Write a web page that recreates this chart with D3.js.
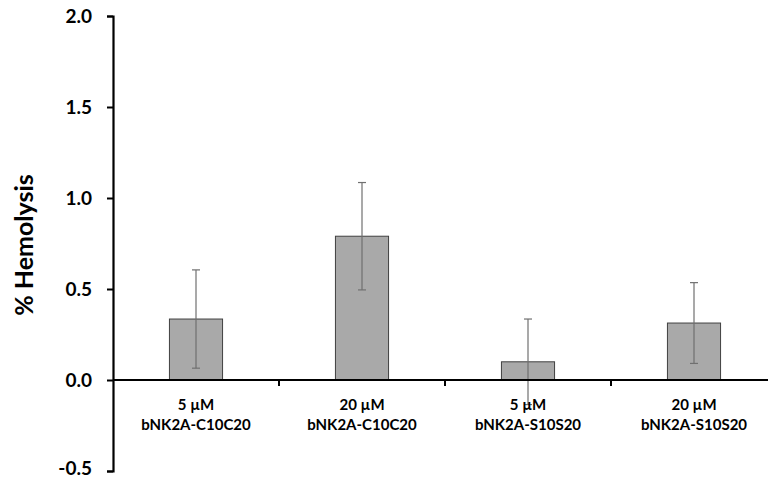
<!DOCTYPE html>
<html>
<head>
<meta charset="utf-8">
<script src="https://cdn.jsdelivr.net/npm/d3@7"></script>
<style>
  body { margin: 0; background: #fff; }
  text { font-family: Lato, "Open Sans", sans-serif; font-weight: bold; fill: #000; }
</style>
</head>
<body>
<div id="chart"></div>
<script>
// Data
const doses = ["5 µM", "20 µM", "5 µM", "20 µM"];
const peptides = ["bNK2A-C10C20", "bNK2A-C10C20", "bNK2A-S10S20", "bNK2A-S10S20"];
const hemolysis = [0.335, 0.79, 0.10, 0.313];
const errors = [0.27, 0.295, 0.235, 0.222];
const yTicks = [-0.5, 0.0, 0.5, 1.0, 1.5, 2.0];

const W = 768, H = 478;
const svg = d3.select("#chart").append("svg")
    .attr("width", W)
    .attr("height", H);

// Scales
const x = d3.scaleBand()
    .domain(d3.range(doses.length))
    .range([113, 777])
    .paddingInner(0)
    .paddingOuter(0);
const y = d3.scaleLinear().domain([-0.5, 2.0]).range([471, 16]);

const barW = x.bandwidth() * 0.32;

// Bars
svg.append("g").selectAll("rect")
    .data(hemolysis)
    .join("rect")
    .attr("x", (d, i) => x(i) + x.bandwidth() / 2 - barW / 2)
    .attr("y", d => y(d))
    .attr("width", barW)
    .attr("height", d => y(0) - y(d))
    .attr("fill", "#a9a9a9")
    .attr("stroke", "#404040")
    .attr("stroke-width", 1);

// Error bars
const eb = svg.append("g")
    .attr("stroke", "#707070")
    .attr("stroke-width", 1.2);
hemolysis.forEach((v, i) => {
  const cx = x(i) + x.bandwidth() / 2;
  const top = y(v + errors[i]), bot = y(v - errors[i]);
  eb.append("line").attr("x1", cx).attr("x2", cx).attr("y1", top).attr("y2", bot);
  eb.append("line").attr("x1", cx - 4).attr("x2", cx + 4).attr("y1", top).attr("y2", top);
  eb.append("line").attr("x1", cx - 4).attr("x2", cx + 4).attr("y1", bot).attr("y2", bot);
});

// Y axis
const yAxis = svg.append("g")
    .attr("transform", "translate(113,0)")
    .call(d3.axisLeft(y).tickValues(yTicks).tickFormat(d => d.toFixed(1)).tickSize(6).tickPadding(15));
yAxis.select(".domain").attr("stroke", "#000").attr("stroke-width", 2.2);
yAxis.selectAll(".tick line").attr("stroke", "#000").attr("stroke-width", 2);
yAxis.selectAll(".tick text")
    .style("font-size", "19px")
    .style("font-family", "Lato, sans-serif")
    .style("font-weight", "bold")
    .attr("fill", "#000");
// keep the bottom label inside the frame
yAxis.selectAll(".tick text").filter(d => d === -0.5).attr("y", -3);

// X axis at zero (category boundaries as ticks)
const zeroY = y(0);
svg.append("line")
    .attr("x1", 113).attr("x2", W)
    .attr("y1", zeroY).attr("y2", zeroY)
    .attr("stroke", "#000").attr("stroke-width", 2.2);
svg.append("g").selectAll("line")
    .data(d3.range(1, doses.length))
    .join("line")
    .attr("x1", i => x(i)).attr("x2", i => x(i))
    .attr("y1", zeroY).attr("y2", zeroY + 6)
    .attr("stroke", "#000").attr("stroke-width", 2);

// Category labels
const labels = svg.append("g").selectAll("text")
    .data(doses)
    .join("text")
    .attr("text-anchor", "middle")
    .style("font-size", "15px");
labels.append("tspan")
    .attr("x", (d, i) => x(i) + x.bandwidth() / 2)
    .attr("y", 410)
    .text(d => d);
labels.append("tspan")
    .attr("x", (d, i) => x(i) + x.bandwidth() / 2)
    .attr("y", 430)
    .text((d, i) => peptides[i]);

// Y title
svg.append("text")
    .attr("transform", "translate(33,245) rotate(-90)")
    .attr("text-anchor", "middle")
    .style("font-size", "25px")
    .text("% Hemolysis");
</script>
</body>
</html>
